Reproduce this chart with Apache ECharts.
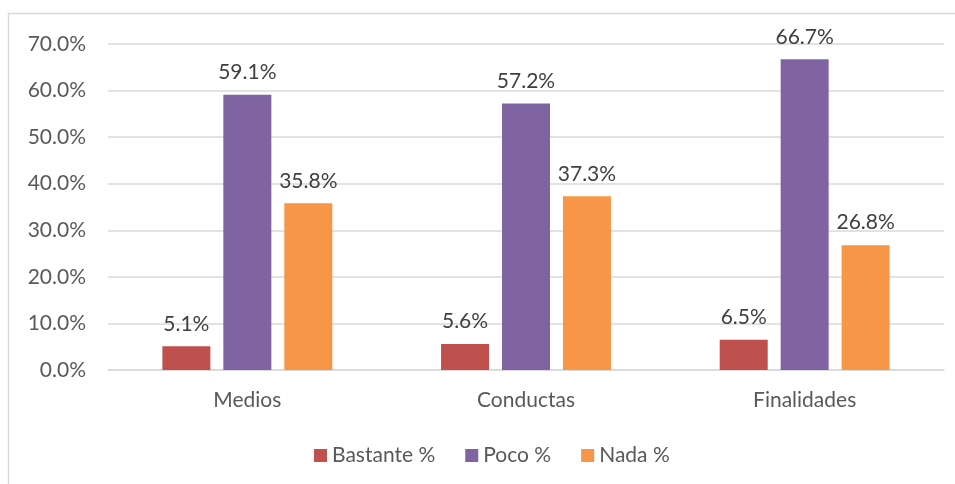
<!DOCTYPE html>
<html><head><meta charset="utf-8">
<script src="https://cdn.jsdelivr.net/npm/echarts@6/dist/echarts.min.js"></script>
<style>html,body{margin:0;padding:0;background:#fff}#c{width:955px;height:484px}</style>
</head><body><div id="c"></div>
<script>
var categories = ['Medios', 'Conductas', 'Finalidades'];
var seriesNames = ['Bastante %', 'Poco %', 'Nada %'];
var bastante = [5.1, 5.6, 6.5];
var poco = [59.1, 57.2, 66.7];
var nada = [35.8, 37.3, 26.8];
var colors = ['#C0504D', '#8064A2', '#F79646'];
var FONT = 'Lato';
var FS = 21;
var TXT = '#595959';
var chart = echarts.init(document.getElementById('c'), null, {renderer: 'canvas'});
function mk(name, data, color) {
  return {
    name: name, type: 'bar', data: data, barWidth: 48, barGap: '27%',
    itemStyle: {color: color},
    label: {show: true, position: 'top', distance: 12, color: '#404040', fontFamily: FONT, fontSize: FS,
      formatter: function (p) { return p.value.toFixed(1) + '%'; }}
  };
}
chart.setOption({
  animation: false,
  color: colors,
  graphic: [{type: 'rect', shape: {x: 8.5, y: 13.5, width: 960, height: 500},
    style: {fill: null, stroke: '#D9D9D9', lineWidth: 1.5}, silent: true}],
  grid: {left: 108, right: 11, top: 44, bottom: 114},
  legend: {bottom: 13, left: 309, itemWidth: 13, itemHeight: 13, itemGap: 30,
    icon: 'rect', textStyle: {color: TXT, fontFamily: FONT, fontSize: FS}, data: seriesNames},
  xAxis: {type: 'category', data: categories,
    axisLine: {lineStyle: {color: '#D9D9D9', width: 1.5}}, axisTick: {show: false},
    axisLabel: {color: TXT, fontFamily: FONT, fontSize: FS, margin: 20}},
  yAxis: {type: 'value', min: 0, max: 70, interval: 10,
    axisLine: {show: false}, axisTick: {show: false},
    splitLine: {lineStyle: {color: '#D9D9D9', width: 1.5}},
    axisLabel: {color: TXT, fontFamily: FONT, fontSize: FS, margin: 22,
      formatter: function (v) { return v.toFixed(1) + '%'; }}},
  series: [mk(seriesNames[0], bastante, colors[0]), mk(seriesNames[1], poco, colors[1]), mk(seriesNames[2], nada, colors[2])]
});
</script></body></html>
